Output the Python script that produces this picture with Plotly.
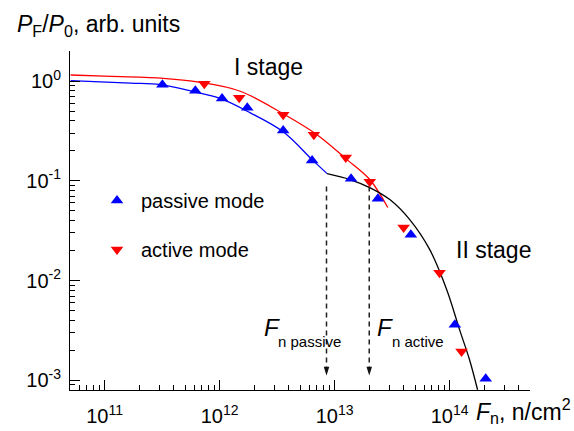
import numpy as np
import plotly.graph_objects as go

# ---------------- data ----------------
passive_fluence = [3.18e11, 6.15e11, 1.05e12, 1.74e12, 3.57e12, 6.37e12, 1.39e13, 2.38e13, 4.6e13, 1.11e14, 2.06e14]
passive_ratio = [0.92, 0.80, 0.67, 0.54, 0.32, 0.16, 0.105, 0.066, 0.0288, 0.0036, 0.00104]

active_fluence = [7.36e11, 1.48e12, 3.57e12, 6.6e12, 1.25e13, 2.02e13, 3.98e13, 8.17e13, 1.27e14]
active_ratio = [0.94, 0.68, 0.46, 0.29, 0.171, 0.098, 0.034, 0.012, 0.00194]

passive_fit_fluence = [5.07e10, 1.68e11, 3.06e11, 5.9e11, 1.01e12, 1.85e12, 3.57e12, 6.37e12, 8.6e12]
passive_fit_ratio = [1.01, 0.955, 0.92, 0.785, 0.67, 0.48, 0.31, 0.163, 0.118]

active_fit_fluence = [5.07e10, 1e11, 3.06e11, 6.8e11, 1.51e12, 3.57e12, 7.03e12, 1.28e13, 2.02e13, 2.9e13]
active_fit_ratio = [1.15, 1.12, 1.07, 0.97, 0.79, 0.47, 0.29, 0.163, 0.103, 0.054]

stage2_fluence = [8.6e12, 1.36e13, 2.02e13, 3.02e13, 4.5e13, 6.72e13, 9.44e13, 1.22e14, 1.49e14, 1.75e14]
stage2_ratio = [0.118, 0.103, 0.0855, 0.0648, 0.0408, 0.0204, 0.0081, 0.00322, 0.00161, 0.000805]

fn_passive = 8.5e12
fn_active = 2.0e13
arrow_top = 0.0875
arrow_tip = 0.00112

x_major = [1e11, 1e12, 1e13, 1e14]
x_labels = ["10<sup>11</sup>", "10<sup>12</sup>", "10<sup>13</sup>", "10<sup>14</sup>"]
y_major = [1e-3, 1e-2, 1e-1, 1]
y_labels = ["10<sup>-3</sup>", "10<sup>-2</sup>", "10<sup>-1</sup>", "10<sup>0</sup>"]

x_minor = [m * 10.0 ** d for d in range(10, 15) for m in range(2, 10) if 5e10 <= m * 10.0 ** d <= 5e14]
y_minor = [m * 10.0 ** d for d in range(-4, 1) for m in range(2, 10) if 8e-4 <= m * 10.0 ** d <= 2]

FONT = "Liberation Sans, Arial, sans-serif"
BLUE = "#0000FF"
RED = "#FF0000"

W, H = 574, 431
L, R, T, B = 70, 44, 51, 41


def px(x):
    return (x - L) / (W - L - R)


def py(y):
    return (H - B - y) / (H - T - B)


fig = go.Figure()

# fitted curves
fig.add_trace(go.Scatter(x=passive_fit_fluence, y=passive_fit_ratio, mode="lines",
                         line=dict(color=BLUE, width=1.3, shape="spline"), showlegend=False, hoverinfo="skip"))
fig.add_trace(go.Scatter(x=active_fit_fluence, y=active_fit_ratio, mode="lines",
                         line=dict(color=RED, width=1.3, shape="spline"), showlegend=False, hoverinfo="skip"))
fig.add_trace(go.Scatter(x=stage2_fluence, y=stage2_ratio, mode="lines",
                         line=dict(color="black", width=1.3, shape="spline"), showlegend=False, hoverinfo="skip"))

# dashed arrows
for fn in (fn_passive, fn_active):
    fig.add_trace(go.Scatter(x=[fn, fn], y=[arrow_top, arrow_tip * 1.04], mode="lines",
                             line=dict(color="#222222", width=1.5, dash="5px,4px"),
                             showlegend=False, hoverinfo="skip"))
    fig.add_trace(go.Scatter(x=[fn], y=[arrow_tip], mode="markers",
                             marker=dict(symbol="arrow", angle=180, size=9, color="#111111"),
                             showlegend=False, hoverinfo="skip"))

# data points
fig.add_trace(go.Scatter(x=passive_fluence, y=passive_ratio, mode="markers", name="passive mode",
                         legendgroup="p",
                         marker=dict(symbol="triangle-up", size=11, color=BLUE)))
fig.add_trace(go.Scatter(x=active_fluence, y=active_ratio, mode="markers", name="active mode",
                         legendgroup="a",
                         marker=dict(symbol="triangle-down", size=11, color=RED)))

axis_common = dict(type="log", showline=True, linecolor="black", linewidth=1,
                   ticks="inside", ticklen=10, tickwidth=1, tickcolor="black",
                   showgrid=False, zeroline=False, tickmode="array", automargin=False,
                   tickfont=dict(size=20, color="black", family=FONT))

fig.update_xaxes(range=[np.log10(5e10), np.log10(5e14)], tickvals=x_major, ticktext=x_labels,
                 ticklabelstandoff=8,
                 minor=dict(tickmode="array", tickvals=x_minor, ticks="inside", ticklen=5,
                            tickcolor="black", tickwidth=1, showgrid=False),
                 **axis_common)
fig.update_yaxes(range=[np.log10(8e-4), np.log10(2)], tickvals=y_major, ticktext=y_labels,
                 ticklabelstandoff=4,
                 minor=dict(tickmode="array", tickvals=y_minor, ticks="inside", ticklen=5,
                            tickcolor="black", tickwidth=1, showgrid=False),
                 **axis_common)

ann = []
ann.append(dict(x=px(15), y=py(26), text="<i>P</i><sub>F</sub>/<i>P</i><sub>0</sub>, arb. units",
                xanchor="left", yanchor="middle", font=dict(size=23)))
ann.append(dict(x=px(573), y=py(411), text="<i>F</i><sub>n</sub>, n/cm<sup>2</sup>",
                xanchor="right", yanchor="middle", font=dict(size=23)))
ann.append(dict(x=px(268), y=py(67), text="I stage", xanchor="center", yanchor="middle", font=dict(size=23)))
ann.append(dict(x=px(493), y=py(250), text="II stage", xanchor="center", yanchor="middle", font=dict(size=23)))
ann.append(dict(x=px(272), y=py(327), text="<i>F</i>", xanchor="center", yanchor="middle", font=dict(size=24)))
ann.append(dict(x=px(276), y=py(341), text="n passive", xanchor="left", yanchor="middle", font=dict(size=15)))
ann.append(dict(x=px(385), y=py(327), text="<i>F</i>", xanchor="center", yanchor="middle", font=dict(size=24)))
ann.append(dict(x=px(390), y=py(341), text="n active", xanchor="left", yanchor="middle", font=dict(size=15)))
for a in ann:
    a.update(xref="paper", yref="paper", showarrow=False)

fig.update_layout(
    width=W, height=H, autosize=False,
    margin=dict(l=L, r=R, t=T, b=B, pad=0),
    paper_bgcolor="white", plot_bgcolor="white",
    font=dict(family=FONT, color="black", size=20),
    annotations=ann,
    legend=dict(x=px(93), y=py(181), xanchor="left", yanchor="top",
                font=dict(size=20), bgcolor="rgba(0,0,0,0)",
                traceorder="grouped", tracegroupgap=20, itemwidth=38),
    showlegend=True,
)

fig.write_html("out.html", config={"displayModeBar": False},
               post_script="document.body.style.margin='0px';")
